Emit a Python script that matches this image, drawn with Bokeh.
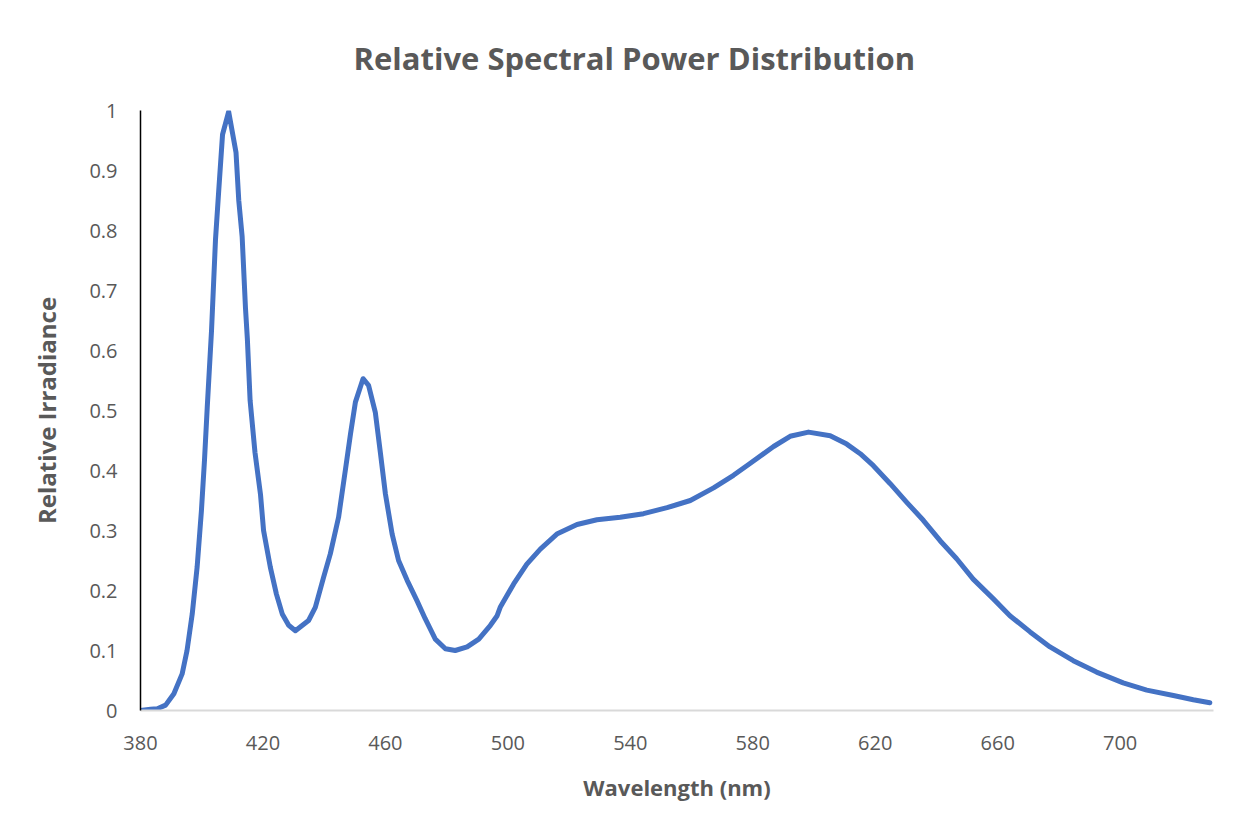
from bokeh.plotting import figure
from bokeh.models import FixedTicker, Range1d
from bokeh.embed import file_html
from bokeh.resources import INLINE

# Wavelength (nm) and relative irradiance
wavelength = [
    380.0, 383.3, 385.5, 388.2, 390.9, 393.6, 395.2, 396.9, 398.5, 399.9,
    400.9, 401.8, 403.2, 404.5, 405.6, 406.8, 408.8, 411.2, 412.1, 413.2,
    414.3, 414.9, 415.8, 417.4, 419.2, 420.2, 422.4, 424.4, 426.3, 428.4,
    430.6, 434.9, 437.1, 439.8, 442.0, 444.7, 446.9, 448.6, 450.2, 452.7,
    454.5, 456.7, 458.4, 460.0, 462.2, 464.3, 467.1, 470.3, 473.0, 476.3,
    479.6, 482.8, 486.7, 490.5, 494.3, 496.5, 497.5, 501.9, 506.2, 510.6,
    516.0, 522.6, 529.1, 536.7, 544.3, 552.0, 559.6, 567.2, 573.7, 579.2,
    586.8, 592.2, 598.2, 605.3, 610.7, 615.1, 619.4, 624.9, 630.3, 635.7,
    641.2, 646.6, 652.0, 658.6, 664.0, 670.6, 677.1, 684.7, 692.3, 701.0,
    708.7, 717.4, 723.9, 729.3,
]
irradiance = [
    0.000, 0.002, 0.003, 0.009, 0.028, 0.061, 0.100, 0.161, 0.239, 0.333,
    0.417, 0.505, 0.633, 0.785, 0.870, 0.960, 0.998, 0.930, 0.850, 0.790,
    0.670, 0.620, 0.517, 0.430, 0.360, 0.300, 0.239, 0.194, 0.161, 0.142,
    0.133, 0.150, 0.172, 0.222, 0.261, 0.322, 0.400, 0.461, 0.514, 0.553,
    0.542, 0.497, 0.428, 0.361, 0.294, 0.250, 0.217, 0.183, 0.153, 0.119,
    0.103, 0.100, 0.106, 0.119, 0.142, 0.158, 0.172, 0.211, 0.244, 0.269,
    0.294, 0.310, 0.318, 0.322, 0.328, 0.338, 0.350, 0.371, 0.392, 0.412,
    0.440, 0.457, 0.464, 0.458, 0.444, 0.428, 0.408, 0.378, 0.347, 0.317,
    0.283, 0.253, 0.219, 0.186, 0.158, 0.131, 0.106, 0.083, 0.064, 0.046,
    0.034, 0.025, 0.018, 0.013,
]
x_ticks = [380, 420, 460, 500, 540, 580, 620, 660, 700]
y_ticks = [0, 0.1, 0.2, 0.3, 0.4, 0.5, 0.6, 0.7, 0.8, 0.9, 1]

title_text = "Relative Spectral Power Distribution"
x_label_text = "Wavelength (nm)"
y_label_text = "Relative Irradiance"

TEXT = "#595959"
FONT = "Open Sans"

p = figure(
    width=1230, height=805,
    output_backend="svg", toolbar_location=None,
    x_range=Range1d(380, 730.5), y_range=Range1d(0, 1),
    min_border_left=140, min_border_right=17,
    min_border_top=110, min_border_bottom=95,
    title=title_text,
)
p.outline_line_color = None
p.background_fill_color = "white"
p.border_fill_color = "white"

p.title.align = "left"
p.title.offset = 213
p.title.standoff = 63
p.title.text_font = FONT
p.title.text_font_style = "bold"
p.title.text_font_size = "31px"
p.title.text_color = TEXT

p.xgrid.visible = False
p.ygrid.visible = False

# x axis
xa = p.xaxis[0]
xa.ticker = FixedTicker(ticks=x_ticks)
xa.axis_line_color = "#d9d9d9"
xa.axis_line_width = 2
xa.major_tick_line_color = None
xa.minor_tick_line_color = None
xa.major_tick_out = 0
xa.major_tick_in = 0
xa.major_label_standoff = 25
xa.major_label_text_font = FONT
xa.major_label_text_font_size = "20px"
xa.major_label_text_color = TEXT
xa.axis_label = x_label_text
xa.axis_label_text_font = FONT
xa.axis_label_text_font_style = "bold"
xa.axis_label_text_font_size = "22px"
xa.axis_label_text_color = TEXT
xa.axis_label_standoff = 19

# y axis
ya = p.yaxis[0]
ya.ticker = FixedTicker(ticks=y_ticks)
ya.axis_line_color = "black"
ya.axis_line_width = 1.5
ya.major_tick_line_color = None
ya.minor_tick_line_color = None
ya.major_tick_out = 0
ya.major_tick_in = 0
ya.major_label_standoff = 23
ya.major_label_text_font = FONT
ya.major_label_text_font_size = "20px"
ya.major_label_text_color = TEXT
ya.axis_label = y_label_text
ya.axis_label_text_font = FONT
ya.axis_label_text_font_style = "bold"
ya.axis_label_text_font_size = "24px"
ya.axis_label_text_color = TEXT
ya.axis_label_standoff = 23

p.line(wavelength, irradiance, line_color="#4472C4", line_width=5,
       line_join="round", line_cap="round")

open("out.html", "w").write(file_html(p, INLINE))
